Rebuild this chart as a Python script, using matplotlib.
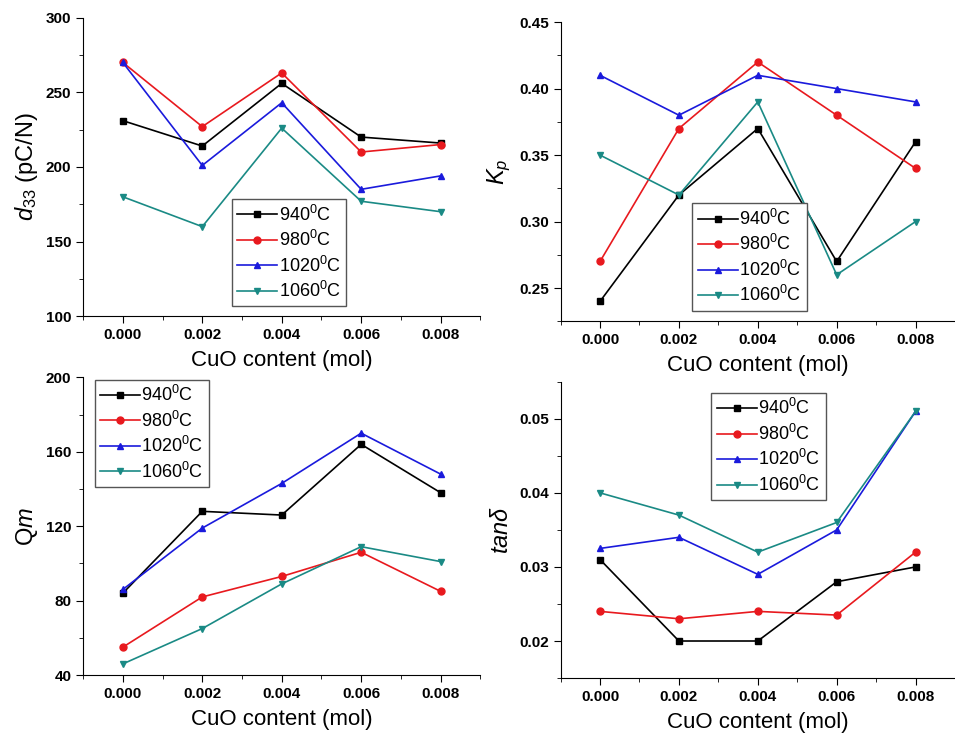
import numpy as np
import matplotlib.pyplot as plt
from matplotlib.ticker import MultipleLocator, FormatStrFormatter

plt.rcParams['font.family'] = ['Liberation Sans', 'DejaVu Sans']
plt.rcParams['mathtext.fontset'] = 'custom'
plt.rcParams['mathtext.rm'] = 'Liberation Sans'
plt.rcParams['mathtext.it'] = 'Liberation Sans:italic'

cuo = [0.000, 0.002, 0.004, 0.006, 0.008]
temps = ['940', '980', '1020', '1060']

d33_940 = [231, 214, 256, 220, 216]
d33_980 = [270, 227, 263, 210, 215]
d33_1020 = [270, 201, 243, 185, 194]
d33_1060 = [180, 160, 226, 177, 170]

kp_940 = [0.24, 0.32, 0.37, 0.27, 0.36]
kp_980 = [0.27, 0.37, 0.42, 0.38, 0.34]
kp_1020 = [0.41, 0.38, 0.41, 0.40, 0.39]
kp_1060 = [0.35, 0.32, 0.39, 0.26, 0.30]

qm_940 = [84, 128, 126, 164, 138]
qm_980 = [55, 82, 93, 106, 85]
qm_1020 = [86, 119, 143, 170, 148]
qm_1060 = [46, 65, 89, 109, 101]

tan_940 = [0.031, 0.020, 0.020, 0.028, 0.030]
tan_980 = [0.024, 0.023, 0.024, 0.0235, 0.032]
tan_1020 = [0.0325, 0.034, 0.029, 0.035, 0.051]
tan_1060 = [0.040, 0.037, 0.032, 0.036, 0.051]

colors = ['black', '#e8191e', '#1a1adc', '#1a8a85']
markers = ['s', 'o', '^', 'v']

fig = plt.figure(figsize=(9.55, 7.37), dpi=100)

panels = [
    # rect, series, ylim, major, minor, fmt, ylabel, legend anchor (fig coords)
    ([0.087, 0.571, 0.416, 0.405], [d33_940, d33_980, d33_1020, d33_1060],
     (100, 300), 50, 25, '%d', r'$d_{33}$ (pC/N)', (0.243, 0.730)),
    ([0.587, 0.564, 0.413, 0.406], [kp_940, kp_980, kp_1020, kp_1060],
     (0.225, 0.45), 0.05, 0.025, '%.2f', r'$K_p$', (0.725, 0.724)),
    ([0.087, 0.084, 0.416, 0.404], [qm_940, qm_980, qm_1020, qm_1060],
     (40, 200), 40, 20, '%d', r'Q$m$', (0.099, 0.485)),
    ([0.587, 0.080, 0.413, 0.402], [tan_940, tan_980, tan_1020, tan_1060],
     (0.015, 0.055), 0.01, 0.005, '%.2f', r'$tan\delta$', (0.745, 0.467)),
]

for rect, series, ylim, major, minor, fmt, ylabel, anchor in panels:
    ax = fig.add_axes(rect)
    for vals, t, c, m in zip(series, temps, colors, markers):
        ax.plot(cuo, vals, color=c, marker=m, markersize=5, linewidth=1.2,
                label=t + r'$^{\mathregular{0}}$C')
    ax.set_xlim(-0.001, 0.009)
    ax.set_ylim(*ylim)
    ax.spines['top'].set_visible(False)
    ax.spines['right'].set_visible(False)
    ax.xaxis.set_major_locator(MultipleLocator(0.002))
    ax.xaxis.set_minor_locator(MultipleLocator(0.001))
    ax.xaxis.set_major_formatter(FormatStrFormatter('%.3f'))
    ax.yaxis.set_major_locator(MultipleLocator(major))
    ax.yaxis.set_minor_locator(MultipleLocator(minor))
    ax.yaxis.set_major_formatter(FormatStrFormatter(fmt))
    ax.tick_params(which='major', direction='out', length=5, labelsize=11)
    ax.tick_params(which='minor', direction='out', length=3)
    for lab in ax.get_xticklabels() + ax.get_yticklabels():
        lab.set_fontweight('bold')
    ax.set_xlabel('CuO content (mol)', fontsize=16, labelpad=6)
    ax.set_ylabel(ylabel, fontsize=17)
    leg = ax.legend(loc='upper left', bbox_to_anchor=anchor,
                    bbox_transform=fig.transFigure, fontsize=13,
                    fancybox=False, edgecolor='#555555', framealpha=1,
                    handlelength=2.2, handletextpad=0.1, labelspacing=0.3,
                    borderpad=0.3, borderaxespad=0)

fig.savefig('out.png', dpi=100)
